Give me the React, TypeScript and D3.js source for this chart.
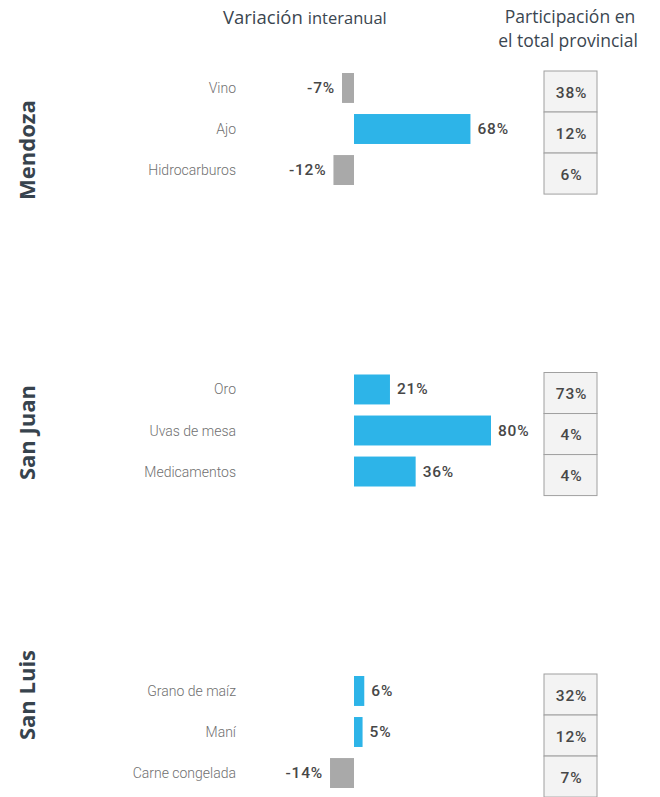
import * as d3 from "d3";

const provinces = ["Mendoza", "San Juan", "San Luis"];
const products = [
  ["Vino", "Ajo", "Hidrocarburos"],
  ["Oro", "Uvas de mesa", "Medicamentos"],
  ["Grano de maíz", "Maní", "Carne congelada"],
];
const variation = [
  [-7, 68, -12],
  [21, 80, 36],
  [6, 5, -14],
];
const share = [
  [38, 12, 6],
  [73, 4, 4],
  [32, 12, 7],
];

const W = 660;
const H = 797;
const BLUE = "#2db4e8";
const GREY = "#a9a9a9";
const TXT = "#474747";
const HEAD = "#3b4650";
const LABEL_FONT = "Roboto, sans-serif";
const HEAD_FONT = "'Open Sans', sans-serif";

// shift of the rotated province names relative to the middle row
const labelShift = [21, 2, -37];

export default function App() {
  const groupY = d3.scalePoint<string>().domain(provinces).range([73, 676]);
  const rowY = d3.scaleBand<number>().domain([0, 1, 2]).range([0, 112]).paddingInner(0.27);
  const x = d3.scaleLinear().domain([0, 80]).range([354, 491]);
  const boxX = 544;
  const boxW = 53;
  const step = rowY.step();

  return (
    <div style={{ position: "absolute", left: 0, top: 0 }}>
      <svg width={W} height={H} style={{ display: "block", background: "#fff" }}>
        <text x={223} y={24} fontFamily={HEAD_FONT} fill={HEAD}>
          <tspan fontSize={18.5}>Variación</tspan>
          <tspan fontSize={16.5} dx={5}>interanual</tspan>
        </text>
        <text x={570} y={23} textAnchor="middle" fontFamily={HEAD_FONT} fontSize={17.5} fill={HEAD}>
          Participación en
        </text>
        <text x={568} y={47} textAnchor="middle" fontFamily={HEAD_FONT} fontSize={17.5} fill={HEAD}>
          el total provincial
        </text>

        {provinces.map((p, gi) => {
          const gy = groupY(p)!;
          const mid = gy + rowY(1)! + rowY.bandwidth() / 2;
          return (
            <g key={p}>
              <text
                transform={`translate(35,${mid + labelShift[gi]}) rotate(-90)`}
                textAnchor="middle"
                fontFamily={HEAD_FONT}
                fontWeight={700}
                fontSize={22}
                fill="#37434d"
              >
                {p}
              </text>
              {products[gi].map((name, i) => {
                const v = variation[gi][i];
                const y0 = gy + rowY(i)!;
                const cy = y0 + rowY.bandwidth() / 2;
                const x0 = Math.min(x(0), x(v));
                const w = Math.abs(x(v) - x(0));
                return (
                  <g key={name}>
                    <text
                      x={236}
                      y={cy + 5}
                      textAnchor="end"
                      fontFamily={LABEL_FONT}
                      fontWeight={300}
                      fontSize={14}
                      fill="#707070"
                    >
                      {name}
                    </text>
                    <rect x={x0} y={y0} width={w} height={rowY.bandwidth()} fill={v < 0 ? GREY : BLUE} />
                    <text
                      x={v < 0 ? x(v) - 7 : x(v) + 7}
                      y={cy + 5}
                      textAnchor={v < 0 ? "end" : "start"}
                      fontFamily={LABEL_FONT}
                      fontWeight={500}
                      fontSize={15.5}
                      letterSpacing={0.8}
                      fill={TXT}
                    >
                      {`${v}%`}
                    </text>
                    <rect
                      x={boxX}
                      y={y0 - 2}
                      width={boxW}
                      height={step}
                      fill="#f3f3f3"
                      stroke="#a0a0a0"
                      strokeWidth={1}
                    />
                    <text
                      x={boxX + boxW / 2 + 1}
                      y={y0 - 2 + step / 2 + 6}
                      textAnchor="middle"
                      fontFamily={LABEL_FONT}
                      fontWeight={500}
                      fontSize={15.5}
                      letterSpacing={0.8}
                      fill={TXT}
                    >
                      {`${share[gi][i]}%`}
                    </text>
                  </g>
                );
              })}
            </g>
          );
        })}
      </svg>
    </div>
  );
}
